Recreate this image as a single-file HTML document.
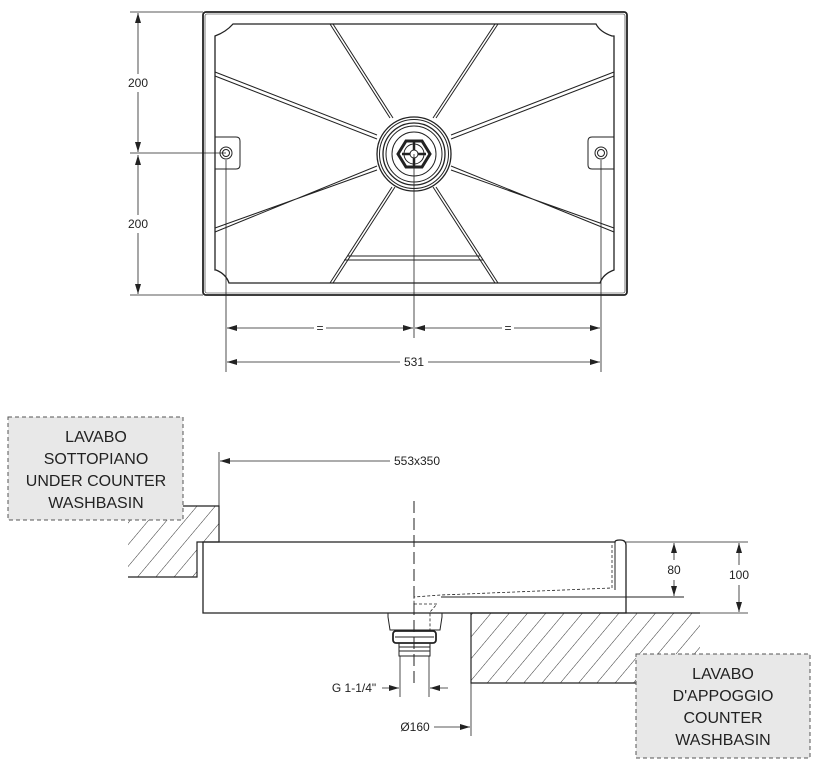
<!DOCTYPE html>
<html><head><meta charset="utf-8"><style>
html,body{margin:0;padding:0;background:#fff}
svg{display:block}
text{font-family:"Liberation Sans",sans-serif;fill:#222}
</style></head><body>
<svg width="817" height="762" viewBox="0 0 817 762" xmlns="http://www.w3.org/2000/svg">
<defs>
<pattern id="h" patternUnits="userSpaceOnUse" width="14" height="14" patternTransform="rotate(40)">
<line x1="0" y1="0" x2="0" y2="14" stroke="#333" stroke-width="1"/>
</pattern>
<marker id="a" viewBox="0 0 10 6" refX="10" refY="3" markerWidth="10" markerHeight="6" orient="auto-start-reverse" markerUnits="userSpaceOnUse">
<path d="M0,0 L10,3 L0,6 z" fill="#222"/>
</marker>
</defs>
<g fill="none" stroke="#222" stroke-width="1">
<rect x="203" y="12" width="424" height="283" rx="3" stroke-width="1.8"/>
<rect x="205" y="14" width="420" height="279" rx="2" stroke-width="0.6"/>
<path d="M233,24 L596,24 Q600,32 612,36 L614,36 L614,270 Q603,274 600,283 L229,283 Q226,274 216,270 L215,270 L215,36 Q226,32 233,24 Z" stroke-width="1.3"/>
<g stroke-width="1">
<path d="M330,24 L390,118 M333,24 L393,118"/>
<path d="M498,24 L436,118 M495,24 L433,118"/>
<path d="M215,72 L377,135 M215,76 L377,139"/>
<path d="M215,232 L377,166 M215,228 L377,170"/>
<path d="M614,72 L451,135 M614,76 L451,139"/>
<path d="M614,232 L451,166 M614,228 L451,170"/>
<path d="M330,283 L392,187 M333,283 L395,187"/>
<path d="M498,283 L436,187 M495,283 L433,187"/>
<path d="M347,256 L480,256 M344,260 L483,260"/>
</g>
<circle cx="414" cy="154" r="37" stroke-width="1.3"/>
<circle cx="414" cy="154" r="34.5"/>
<circle cx="414" cy="154" r="31" stroke-width="1.3"/>
<circle cx="414" cy="154" r="28"/>
<circle cx="414" cy="154" r="22"/>
<polygon points="398,154 406,141 422,141 430,154 422,167 406,167" stroke-width="3"/>
<circle cx="414" cy="154" r="10"/>
<circle cx="414" cy="154" r="4"/>
<path d="M402,154 H410 M418,154 H426 M414,142 V150 M414,158 V166" stroke-width="2.5"/>
<path d="M215,137 H236 Q240,137 240,141 V165 Q240,169 236,169 H215"/>
<circle cx="226" cy="153" r="6"/><circle cx="226" cy="153" r="3.5"/>
<path d="M614,137 H592 Q588,137 588,141 V165 Q588,169 592,169 H614"/>
<circle cx="601" cy="153" r="6"/><circle cx="601" cy="153" r="3.5"/>
<path d="M130,12 H203 M130,295 H203 M130,153 H226" stroke-width="0.8"/>
<line x1="138" y1="13" x2="138" y2="74" marker-start="url(#a)" stroke-width="0.8"/>
<line x1="138" y1="92" x2="138" y2="152" marker-end="url(#a)" stroke-width="0.8"/>
<line x1="138" y1="155" x2="138" y2="215" marker-start="url(#a)" stroke-width="0.8"/>
<line x1="138" y1="233" x2="138" y2="294" marker-end="url(#a)" stroke-width="0.8"/>
<path d="M226,160 V372 M601,160 V372 M414,154 V338" stroke-width="0.8"/>
<line x1="227" y1="328" x2="314" y2="328" marker-start="url(#a)" stroke-width="0.8"/>
<line x1="326" y1="328" x2="413" y2="328" marker-end="url(#a)" stroke-width="0.8"/>
<line x1="415" y1="328" x2="502" y2="328" marker-start="url(#a)" stroke-width="0.8"/>
<line x1="514" y1="328" x2="600" y2="328" marker-end="url(#a)" stroke-width="0.8"/>
<line x1="227" y1="362" x2="400" y2="362" marker-start="url(#a)" stroke-width="0.8"/>
<line x1="428" y1="362" x2="600" y2="362" marker-end="url(#a)" stroke-width="0.8"/>

<path d="M128,506 H219 V542 H197 V577 H128 Z" fill="url(#h)" stroke="none"/>
<path d="M183,506 H219 V542 H197 V577 H128" stroke-width="1.2"/>
<rect x="8" y="417" width="175" height="103" fill="#e8e8e8" stroke="#555" stroke-dasharray="4,3"/>
<path d="M471,613 H700 V654 H636 V683 H471 Z" fill="url(#h)" stroke="none"/>
<path d="M700,613 H471 V683 H636" stroke-width="1.2"/>
<rect x="636" y="654" width="174" height="104" fill="#e8e8e8" stroke="#555" stroke-dasharray="4,3"/>
<path d="M219,452 V506" stroke-width="0.8"/>
<line x1="390" y1="461" x2="220" y2="461" marker-end="url(#a)" stroke-width="0.8"/>
<path d="M203,542 H615 Q615,540 620,540 Q626,540 626,545 V613 H203 Z" stroke-width="1.3"/>
<path d="M615,542 V590" stroke-width="1"/>
<path d="M441,597 H684" stroke-width="1"/>
<path d="M612,545 V588 L441,595 L414,597 V613 M414,604 H437 L430,612 V632" stroke-dasharray="3,2" stroke-width="0.8"/>
<path d="M626,542 H748 M626,613 H748" stroke-width="0.8"/>
<line x1="674" y1="543" x2="674" y2="560" marker-start="url(#a)" stroke-width="0.8"/>
<line x1="674" y1="580" x2="674" y2="596" marker-end="url(#a)" stroke-width="0.8"/>
<line x1="739" y1="543" x2="739" y2="565" marker-start="url(#a)" stroke-width="0.8"/>
<line x1="739" y1="585" x2="739" y2="612" marker-end="url(#a)" stroke-width="0.8"/>
<path d="M388,613 V617 L390,630 H440 L442,617 V613"/>
<rect x="393" y="631" width="43" height="12" rx="3" stroke-width="1.8"/>
<path d="M395,637 H434"/>
<rect x="399" y="643" width="31" height="13"/>
<path d="M399,647 H430 M399,651 H430"/>
<path d="M414,501 V685" stroke-dasharray="12,5" stroke-width="1"/>
<path d="M400,656 V697 M429,656 V697" stroke-width="0.8"/>
<line x1="382" y1="688" x2="399" y2="688" marker-end="url(#a)" stroke-width="0.8"/>
<line x1="448" y1="688" x2="430" y2="688" marker-end="url(#a)" stroke-width="0.8"/>
<path d="M471,683 V736" stroke-width="0.8"/>
<line x1="434" y1="727" x2="470" y2="727" marker-end="url(#a)" stroke-width="0.8"/>
</g>
<g font-size="12" text-anchor="middle">
<text x="138" y="87">200</text>
<text x="138" y="228">200</text>
<text x="320" y="332">=</text>
<text x="508" y="332">=</text>
<text x="414" y="366">531</text>
<text x="417" y="465">553x350</text>
<text x="674" y="574">80</text>
<text x="739" y="579">100</text>
<text x="354" y="692">G 1-1/4"</text>
<text x="415" y="731">Ø160</text>
</g>
<g font-size="16" text-anchor="middle">
<text x="96" y="442">LAVABO</text>
<text x="96" y="464">SOTTOPIANO</text>
<text x="96" y="486">UNDER COUNTER</text>
<text x="96" y="508">WASHBASIN</text>
<text x="723" y="679">LAVABO</text>
<text x="723" y="701">D'APPOGGIO</text>
<text x="723" y="723">COUNTER</text>
<text x="723" y="745">WASHBASIN</text>
</g>
</svg>
</body></html>
